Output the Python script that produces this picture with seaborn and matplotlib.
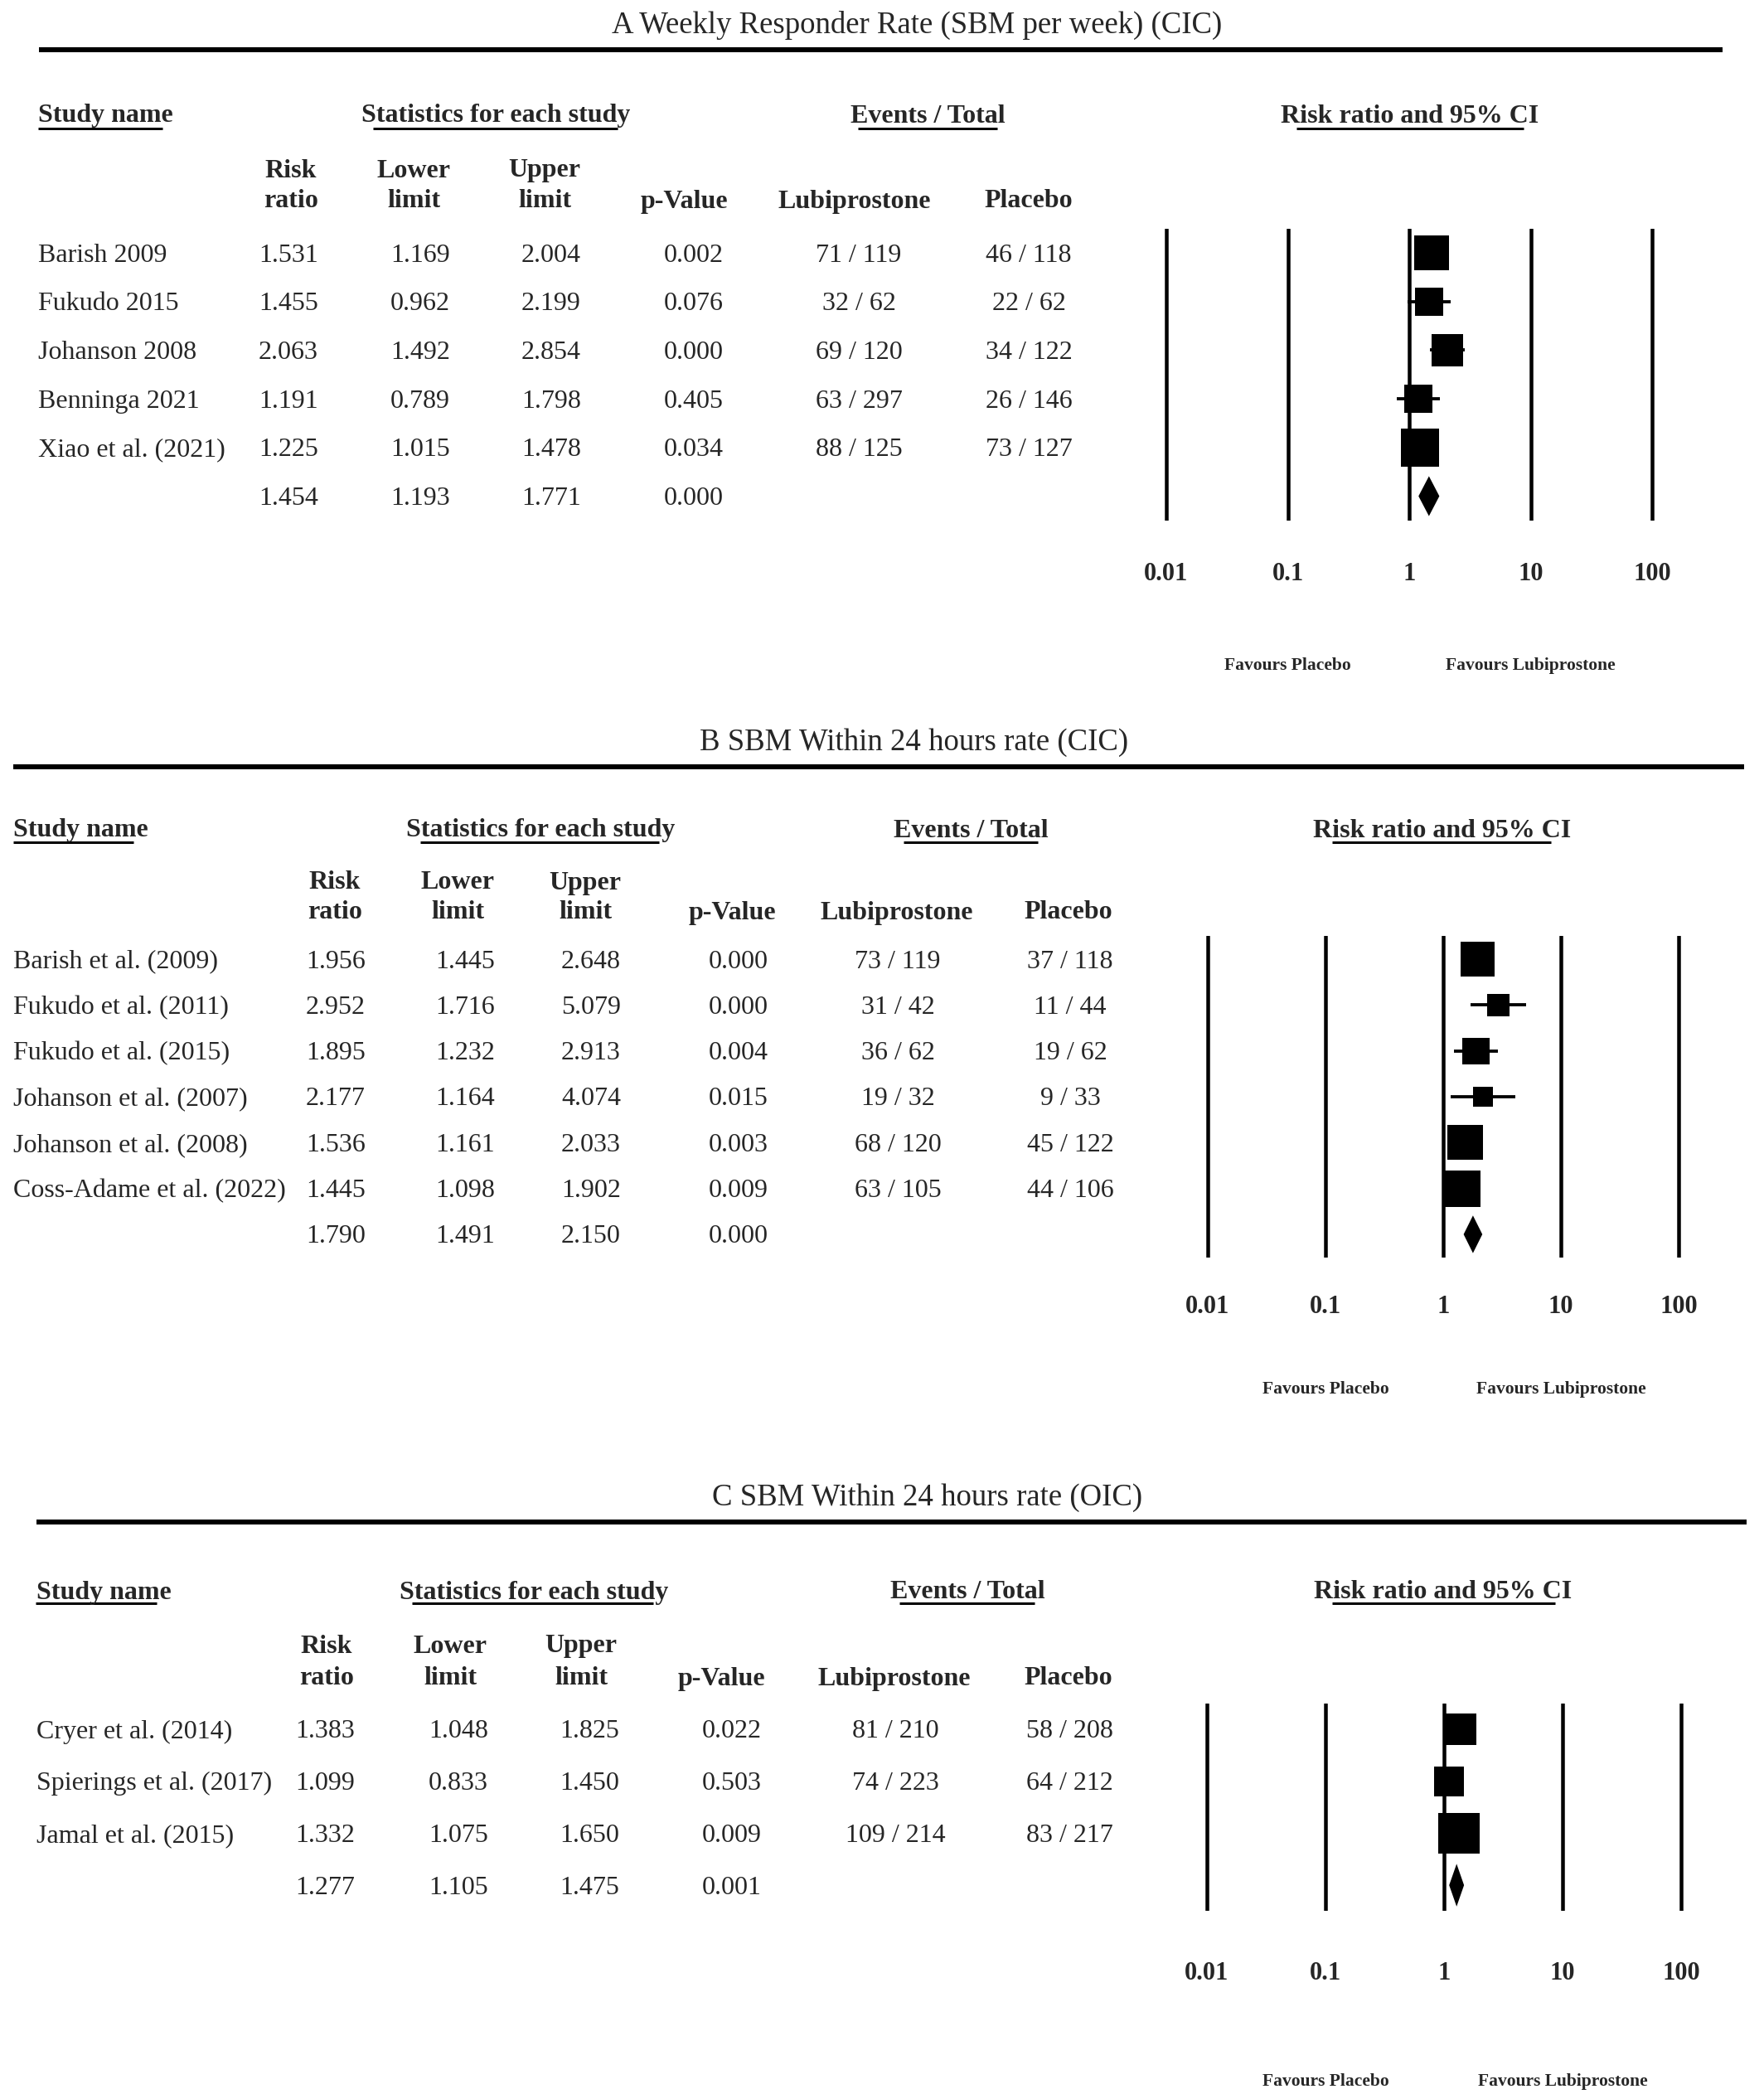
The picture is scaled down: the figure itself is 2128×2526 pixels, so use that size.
import numpy as np
import pandas as pd
import seaborn as sns
import matplotlib.pyplot as plt
from matplotlib.transforms import blended_transform_factory

# ---- data: panel A, weekly responder rate (CIC)
studies_a = ["Barish 2009", "Fukudo 2015", "Johanson 2008", "Benninga 2021", "Xiao et al. (2021)"]
rr_a = [1.531, 1.455, 2.063, 1.191, 1.225]
lower_a = [1.169, 0.962, 1.492, 0.789, 1.015]
upper_a = [2.004, 2.199, 2.854, 1.798, 1.478]
pval_a = [0.002, 0.076, 0.000, 0.405, 0.034]
lubi_events_a = [71, 32, 69, 63, 88]
lubi_total_a = [119, 62, 120, 297, 125]
plac_events_a = [46, 22, 34, 26, 73]
plac_total_a = [118, 62, 122, 146, 127]
weight_a = [22.2, 15.1, 19.5, 15.1, 28.1]
pooled_a = [1.454, 1.193, 1.771, 0.000]

# ---- data: panel B, SBM within 24 hours (CIC)
studies_b = ["Barish et al. (2009)", "Fukudo et al. (2011)", "Fukudo et al. (2015)",
             "Johanson et al. (2007)", "Johanson et al. (2008)", "Coss-Adame et al. (2022)"]
rr_b = [1.956, 2.952, 1.895, 2.177, 1.536, 1.445]
lower_b = [1.445, 1.716, 1.232, 1.164, 1.161, 1.098]
upper_b = [2.648, 5.079, 2.913, 4.074, 2.033, 1.902]
pval_b = [0.000, 0.000, 0.004, 0.015, 0.003, 0.009]
lubi_events_b = [73, 31, 36, 19, 68, 63]
lubi_total_b = [119, 42, 62, 32, 120, 105]
plac_events_b = [37, 11, 19, 9, 45, 44]
plac_total_b = [118, 44, 62, 33, 122, 106]
weight_b = [22.5, 9.2, 13.4, 7.2, 23.0, 24.7]
pooled_b = [1.790, 1.491, 2.150, 0.000]

# ---- data: panel C, SBM within 24 hours (OIC)
studies_c = ["Cryer et al. (2014)", "Spierings et al. (2017)", "Jamal et al. (2015)"]
rr_c = [1.383, 1.099, 1.332]
lower_c = [1.048, 0.833, 1.075]
upper_c = [1.825, 1.450, 1.650]
pval_c = [0.022, 0.503, 0.009]
lubi_events_c = [81, 74, 109]
lubi_total_c = [210, 223, 214]
plac_events_c = [58, 64, 83]
plac_total_c = [208, 212, 217]
weight_c = [27.3, 25.2, 47.5]
pooled_c = [1.277, 1.105, 1.475, 0.001]

ticks = [0.01, 0.1, 1, 10, 100]
tick_labels = ["0.01", "0.1", "1", "10", "100"]

W, H, DPI = 2128, 2526, 100
DY = 3  # small downward nudge so text sits like the original


def pt(px):
    return px * 72 / DPI


sns.set_theme(style="white")
plt.rcParams["font.family"] = ["Liberation Serif", "DejaVu Serif"]

fig = plt.figure(figsize=(W / DPI, H / DPI), dpi=DPI)
fig.patch.set_facecolor("white")
bg = fig.add_axes([0, 0, 1, 1])
bg.set_xlim(0, W)
bg.set_ylim(H, 0)
bg.axis("off")

FS = 23


def put(x, y, s, **kw):
    kw.setdefault("va", "center")
    kw.setdefault("ha", "center")
    kw.setdefault("fontsize", FS)
    bg.text(x, y + DY, s, **kw)


def draw_panel(title, df, pooled, lay):
    n = len(df)
    sp = lay["sp"]
    y0 = lay["row0"]

    # title + thick rule
    put(lay["title_x"], lay["title_y"], title, fontsize=26.5)
    bg.plot(lay["rule"][:2], [lay["rule"][2]] * 2, color="black", lw=pt(6), solid_capstyle="butt")

    # group headers with underlines
    hy = lay["head_y"]
    put(lay["name_x"], hy, "Study name", ha="left", fontweight="bold")
    for txt, cx in zip(["Statistics for each study", "Events / Total", "Risk ratio and 95% CI"],
                       lay["group_x"]):
        put(cx, hy, txt, fontweight="bold")
    for x0, x1 in lay["ulines"]:
        bg.plot([x0, x1], [lay["uline_y"]] * 2, color="black", lw=pt(3), solid_capstyle="butt")

    # column sub-headers
    s1, s2 = lay["sub_y"]
    sub_top = ["Risk", "Lower", "Upper", "", "", ""]
    sub_bot = ["ratio", "limit", "limit", "p-Value", "Lubiprostone", "Placebo"]
    for cx, t1, t2 in zip(lay["sub_x"], sub_top, sub_bot):
        if t1:
            put(cx, s1, t1, fontweight="bold")
        put(cx, s2, t2, fontweight="bold")

    # table rows
    cols = lay["col_x"]
    for i, r in df.iterrows():
        y = y0 + i * sp
        put(lay["name_x"], y, r["study"], ha="left")
        vals = [f"{r['rr']:.3f}", f"{r['lower']:.3f}", f"{r['upper']:.3f}", f"{r['p']:.3f}",
                f"{r['le']:d} / {r['ln']:d}", f"{r['pe']:d} / {r['pn']:d}"]
        for cx, v in zip(cols, vals):
            put(cx, y, v)
    yp = y0 + n * sp
    for cx, v in zip(cols[:4], pooled):
        put(cx, yp, f"{v:.3f}")

    # forest axes
    dec = lay["dec"]
    left = lay["x001"] - 0.1 * dec
    width = 4.2 * dec
    top = y0 - 0.5 * sp
    height = (n + 1) * sp
    ax = fig.add_axes([left / W, 1 - (top + height) / H, width / W, height / H])
    ax.patch.set_alpha(0)

    side = 0.79 * sp * np.sqrt(df["weight"] / df["weight"].max())
    sns.scatterplot(data=df, x="rr", y="row", marker="s", s=pt(side) ** 2, color="black",
                    linewidth=0, legend=False, ax=ax, zorder=4)
    ax.hlines(df["row"], df["lower"], df["upper"], color="black", lw=pt(3.8), zorder=3)
    ax.fill([pooled[1], pooled[0], pooled[2], pooled[0]], [n, n - 0.41, n, n + 0.41],
            color="black", lw=0, zorder=4)
    for t in ticks:
        ax.axvline(t, color="black", lw=pt(4.5), zorder=2)

    ax.set_xscale("log")
    ax.set_xlim(10 ** -2.1, 10 ** 2.1)
    ax.set_ylim(n + 0.5, -0.5)
    ax.axis("off")

    trans = blended_transform_factory(ax.transData, bg.transData)
    for t, lab in zip(ticks, tick_labels):
        ax.text(t, lay["tick_y"] + DY, lab, transform=trans, ha="center", va="center",
                fontsize=22, fontweight="bold")
    ax.text(0.1, lay["fav_y"] + DY, "Favours Placebo", transform=trans, ha="center", va="center",
            fontsize=15.5, fontweight="bold")
    ax.text(10, lay["fav_y"] + DY, "Favours Lubiprostone", transform=trans, ha="center", va="center",
            fontsize=15.5, fontweight="bold")


def make_df(studies, rr, lo, hi, p, le, ln, pe, pn, w):
    df = pd.DataFrame({"study": studies, "rr": rr, "lower": lo, "upper": hi, "p": p,
                       "le": le, "ln": ln, "pe": pe, "pn": pn, "weight": w})
    df["row"] = np.arange(len(df))
    return df


layout_a = dict(title_x=1106, title_y=27, rule=(47, 2078, 60), head_y=137,
                name_x=46, group_x=[598, 1119, 1701],
                ulines=[(46, 196), (450, 745), (1035, 1203), (1564, 1838)], uline_y=155,
                sub_y=(203, 240), sub_x=[351, 499, 657, 825, 1031, 1241],
                col_x=[348, 507, 665, 837, 1036, 1241],
                row0=305, sp=58.7, x001=1407, dec=146.5, tick_y=689, fav_y=800)

layout_b = dict(title_x=1103, title_y=893, rule=(16, 2104, 925), head_y=999,
                name_x=16, group_x=[652, 1171, 1740],
                ulines=[(16, 161), (507, 795), (1090, 1252), (1607, 1871)], uline_y=1016,
                sub_y=(1062, 1098), sub_x=[404, 552, 706, 883, 1082, 1289],
                col_x=[405, 561, 713, 891, 1083, 1291],
                row0=1157, sp=55.33, x001=1457, dec=142, tick_y=1573, fav_y=1673)

layout_c = dict(title_x=1119, title_y=1804, rule=(44, 2107, 1836), head_y=1918,
                name_x=44, group_x=[644, 1167, 1741],
                ulines=[(43, 189), (497, 788), (1085, 1248), (1607, 1876)], uline_y=1934,
                sub_y=(1983, 2022), sub_x=[394, 543, 701, 870, 1079, 1289],
                col_x=[392, 553, 711, 883, 1080, 1290],
                row0=2086, sp=62.7, x001=1456, dec=143, tick_y=2378, fav_y=2508)

draw_panel("A Weekly Responder Rate (SBM per week) (CIC)",
           make_df(studies_a, rr_a, lower_a, upper_a, pval_a, lubi_events_a, lubi_total_a,
                   plac_events_a, plac_total_a, weight_a), pooled_a, layout_a)
draw_panel("B SBM Within 24 hours rate (CIC)",
           make_df(studies_b, rr_b, lower_b, upper_b, pval_b, lubi_events_b, lubi_total_b,
                   plac_events_b, plac_total_b, weight_b), pooled_b, layout_b)
draw_panel("C SBM Within 24 hours rate (OIC)",
           make_df(studies_c, rr_c, lower_c, upper_c, pval_c, lubi_events_c, lubi_total_c,
                   plac_events_c, plac_total_c, weight_c), pooled_c, layout_c)

fig.savefig("out.png", dpi=DPI, facecolor="white")
